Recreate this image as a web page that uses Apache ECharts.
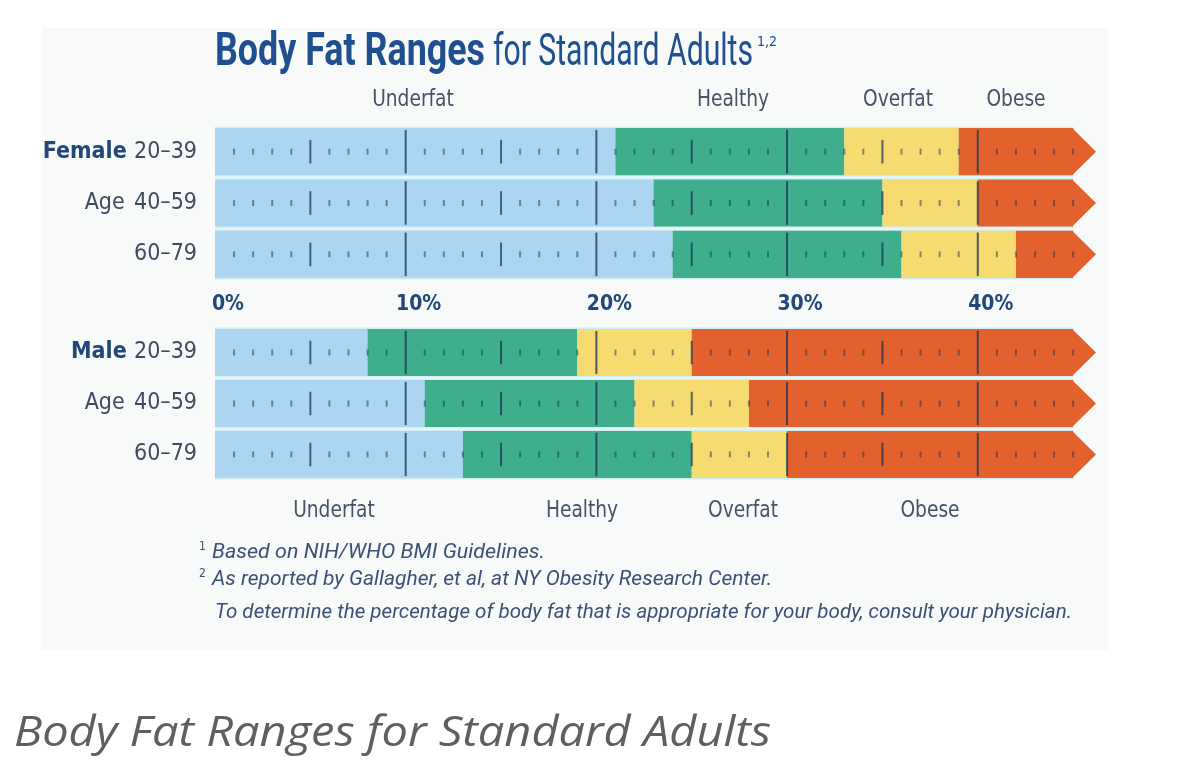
<!DOCTYPE html>
<html>
<head>
<meta charset="utf-8">
<script src="https://cdn.jsdelivr.net/npm/echarts@6/dist/echarts.min.js"></script>
<style>
html,body{margin:0;padding:0;background:#ffffff;}
#chart{width:1181px;height:779px;}
</style>
</head>
<body>
<div id="chart"></div>
<script>
// ---- data ----
var ageGroups = ['20–39', '40–59', '60–79'];
var femaleUnderfatEnd = [21, 23, 24];
var femaleHealthyEnd  = [33, 35, 36];
var femaleOverfatEnd  = [39, 40, 42];
var maleUnderfatEnd = [8, 11, 13];
var maleHealthyEnd  = [19, 22, 25];
var maleOverfatEnd  = [25, 28, 30];
var scaleEnd = 45;       // end of the bar body (%)
var arrowTip = 46.2;     // tip of the arrow head (%)
var xTickLabels = ['0%', '10%', '20%', '30%', '40%'];
var minorTicks = [];
for (var t = 1; t <= 45; t++) minorTicks.push(t);
var rangeNames = ['Underfat', 'Healthy', 'Overfat', 'Obese'];

// ---- style ----
var NARROW = "'Liberation Sans Narrow','DejaVu Sans Condensed',Roboto,sans-serif";
var colors = { Underfat: '#abd5f1', Healthy: '#3fae8c', Overfat: '#f6dc70', Obese: '#e2612d' };
var navy = '#22477b';
var titleBlue = '#1f4f8e';
var greyText = '#3f4b5f';
var noteColor = '#3c5076';
var tickColor = 'rgba(25,50,85,0.85)';

var measureCtx = document.createElement('canvas').getContext('2d');
function fitScale(text, font, target) {
  measureCtx.font = font;
  var w = measureCtx.measureText(text).width;
  return w > 0 ? target / w : 1;
}

function diff(a, b) { return a.map(function (v, i) { return v - b[i]; }); }
function bandHalf(api) { return api.size([0, 1])[1] * 0.46; }

function arrowItem(params, api) {
  var row = api.value(1);
  var h = bandHalf(api);
  var a = api.coord([api.value(0), row]);
  var tip = api.coord([api.value(2), row]);
  return {
    type: 'polygon',
    shape: { points: [[a[0] - 1, a[1] - h], [tip[0], tip[1]], [a[0] - 1, a[1] + h]] },
    style: { fill: colors.Obese }
  };
}

function backItem(params, api) {
  var row = api.value(1);
  var band = api.size([0, 1])[1];
  var a = api.coord([0, row]);
  var b = api.coord([api.value(0), row]);
  return {
    type: 'rect',
    shape: { x: a[0], y: a[1] - band / 2 + 0.5, width: b[0] - a[0], height: band - 1 },
    style: { fill: '#d3eff6' }
  };
}

function tickItem(params, api) {
  var row = api.value(1);
  var h = bandHalf(api);
  var children = [];
  minorTicks.forEach(function (v) {
    var p = api.coord([v, row]);
    var len, w, op;
    if (v % 10 === 0) { len = h * 1.84; w = 2; op = 0.9; }
    else if (v % 5 === 0 && v < scaleEnd) { len = h * 1.0; w = 2; op = 0.85; }
    else { len = 6; w = 2; op = 0.6; }
    children.push({
      type: 'line',
      shape: { x1: p[0], y1: p[1] - len / 2, x2: p[0], y2: p[1] + len / 2 },
      style: { stroke: tickColor, lineWidth: w, opacity: op }
    });
  });
  return { type: 'group', children: children };
}

function makeSeries(gi, uEnd, hEnd, oEnd) {
  var segs = [uEnd, diff(hEnd, uEnd), diff(oEnd, hEnd), uEnd.map(function (v, i) { return scaleEnd - oEnd[i]; })];
  var out = [{
    type: 'custom', xAxisIndex: gi, yAxisIndex: gi, silent: true, z: 1,
    renderItem: backItem,
    encode: { x: 0, y: 1 },
    data: ageGroups.map(function (g, i) { return [scaleEnd, i]; })
  }];
  rangeNames.forEach(function (name, k) {
    out.push({
      type: 'bar', name: name, stack: 's' + gi,
      xAxisIndex: gi, yAxisIndex: gi,
      barWidth: '92%',
      itemStyle: { color: colors[name] },
      silent: true, z: 2,
      data: segs[k]
    });
  });
  out.push({
    type: 'custom', xAxisIndex: gi, yAxisIndex: gi, silent: true,
    renderItem: arrowItem,
    encode: { x: [0, 2], y: 1 },
    data: ageGroups.map(function (g, i) { return [scaleEnd, i, arrowTip]; }),
    z: 3
  });
  out.push({
    type: 'custom', xAxisIndex: gi, yAxisIndex: gi, silent: true,
    renderItem: tickItem,
    encode: { x: 0, y: 1 },
    data: ageGroups.map(function (g, i) { return [0, i]; }),
    z: 4
  });
  return out;
}

function yLabelFormatter(first) {
  return function (val, idx) {
    if (idx === 0) return '{b|' + first + '} {n|' + val + '}';
    if (idx === 1) return '{a|Age} {n|' + val + '}';
    return '{n|' + val + '}';
  };
}
var yRich = {
  b: { fontFamily: NARROW, fontSize: 23, fontWeight: 'bold', color: navy, padding: [0, 4, 0, 0] },
  a: { fontFamily: NARROW, fontSize: 23, color: greyText, padding: [0, 6, 0, 0] },
  n: { fontFamily: NARROW, fontSize: 23, color: greyText }
};

function catText(txt, x, y) {
  return {
    type: 'text', x: x, y: y, scaleX: 0.9,
    style: { text: txt, fontFamily: NARROW, fontSize: 23, fill: '#465366', align: 'center', verticalAlign: 'middle' }
  };
}

function fittedText(txt, x, y, size, style, weight, color, target) {
  var fam = "Roboto";
  var font = (style === 'italic' ? 'italic ' : '') + (weight || 'normal') + ' ' + size + 'px ' + fam;
  return {
    type: 'text', x: x, y: y, scaleX: fitScale(txt, font, target),
    style: { text: txt, fontFamily: fam, fontSize: size, fontStyle: style || 'normal', fontWeight: weight || 'normal',
             fill: color, verticalAlign: 'middle' }
  };
}

var notes = [
  'Based on NIH/WHO BMI Guidelines.',
  'As reported by Gallagher, et al, at NY Obesity Research Center.',
  'To determine the percentage of body fat that is appropriate for your body, consult your physician.'
];
var titleBold = 'Body Fat Ranges';
var titleRegular = 'for Standard Adults';
var caption = 'Body Fat Ranges for Standard Adults';

var captionFont = "italic normal 42px 'Open Sans'";
var captionScale = fitScale(caption, captionFont, 757);

var chart = echarts.init(document.getElementById('chart'));

var option = {
  animation: false,
  backgroundColor: '#ffffff',
  graphic: [
    { type: 'rect', z: -10, shape: { x: 42, y: 28, width: 1066, height: 622 }, style: { fill: '#f8f9f9' } },
    fittedText(titleBold, 215, 53, 46, 'normal', 'bold', titleBlue, 270),
    fittedText(titleRegular, 493, 54, 44, 'normal', 'normal', titleBlue, 260),
    { type: 'text', x: 757, y: 42, style: { text: '1,2', fontFamily: NARROW, fontSize: 14, fill: titleBlue, verticalAlign: 'middle' } },
    catText(rangeNames[0], 413, 100), catText(rangeNames[1], 733, 100),
    catText(rangeNames[2], 898, 100), catText(rangeNames[3], 1016, 100),
    catText(rangeNames[0], 334, 511), catText(rangeNames[1], 582, 511),
    catText(rangeNames[2], 743, 511), catText(rangeNames[3], 930, 511),
    { type: 'text', x: 199, y: 547, style: { text: '1', fontFamily: NARROW, fontSize: 12, fill: noteColor, verticalAlign: 'middle' } },
    fittedText(notes[0], 212, 553, 21, 'italic', 'normal', noteColor, 333),
    { type: 'text', x: 199, y: 574, style: { text: '2', fontFamily: NARROW, fontSize: 12, fill: noteColor, verticalAlign: 'middle' } },
    fittedText(notes[1], 212, 580, 21, 'italic', 'normal', noteColor, 560),
    fittedText(notes[2], 215, 613, 21, 'italic', 'normal', noteColor, 857),
    {
      type: 'text', x: 14, y: 734, scaleX: captionScale,
      style: {
        text: caption, fontFamily: "'Open Sans', Lato, sans-serif", fontSize: 42, fontStyle: 'italic',
        fill: '#5f5f5f', verticalAlign: 'middle'
      }
    }
  ],
  grid: [
    { left: 215, right: 85, top: 126, height: 154 },
    { left: 215, right: 85, top: 327, height: 153 }
  ],
  xAxis: [
    {
      gridIndex: 0, type: 'value', min: 0, max: arrowTip, interval: 10,
      axisLine: { show: false }, axisTick: { show: false }, splitLine: { show: false },
      axisLabel: {
        show: true, margin: 14, showMaxLabel: false,
        fontFamily: NARROW, fontSize: 21, fontWeight: 'bold', color: navy,
        padding: [0, 0, 0, 26],
        formatter: function (v) { return (v % 10 === 0 && xTickLabels[v / 10]) || ''; }
      }
    },
    {
      gridIndex: 1, type: 'value', min: 0, max: arrowTip, interval: 10,
      axisLine: { show: false }, axisTick: { show: false }, splitLine: { show: false },
      axisLabel: { show: false }
    }
  ],
  yAxis: [
    {
      gridIndex: 0, type: 'category', inverse: true, data: ageGroups,
      axisLine: { show: false }, axisTick: { show: false },
      axisLabel: { margin: 18, formatter: yLabelFormatter('Female'), rich: yRich }
    },
    {
      gridIndex: 1, type: 'category', inverse: true, data: ageGroups,
      axisLine: { show: false }, axisTick: { show: false },
      axisLabel: { margin: 18, formatter: yLabelFormatter('Male'), rich: yRich }
    }
  ],
  series: [].concat(
    makeSeries(0, femaleUnderfatEnd, femaleHealthyEnd, femaleOverfatEnd),
    makeSeries(1, maleUnderfatEnd, maleHealthyEnd, maleOverfatEnd)
  )
};
chart.setOption(option);
</script>
</body>
</html>
